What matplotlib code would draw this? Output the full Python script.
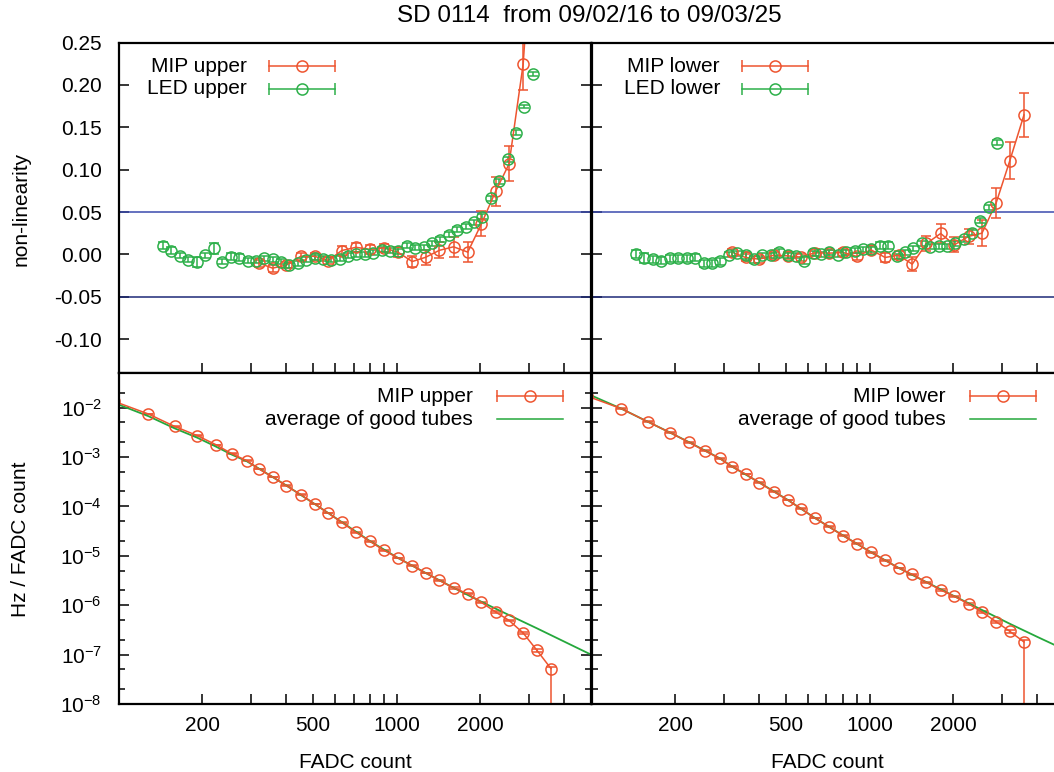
import matplotlib
matplotlib.use("Agg")
import matplotlib.pyplot as plt
from matplotlib.ticker import FormatStrFormatter, NullFormatter, LogFormatterMathtext

plt.rcParams['font.family'] = ['Liberation Sans', 'DejaVu Sans']
plt.rcParams['font.size'] = 15
plt.rcParams['axes.unicode_minus'] = False
plt.rcParams['mathtext.fontset'] = 'custom'
plt.rcParams['mathtext.rm'] = 'Liberation Sans'
plt.rcParams['mathtext.default'] = 'regular'

RED = '#EE5530'
GREEN = '#2DB04A'
FS = 15

# ---- data ----
# LED bins (non-linearity panels)
led_x = [145, 155, 166, 178, 191, 205, 220, 236, 253, 271, 291, 312, 334, 358, 384,
         411, 441, 473, 507, 543, 582, 624, 669, 717, 769, 824, 883, 947, 1015, 1088,
         1166, 1250, 1340, 1437, 1540, 1651, 1770, 1897, 2034, 2180, 2337, 2505, 2686, 2879, 3086]
led_upper = [0.0101, 0.0046, -0.0017, -0.0064, -0.0091, -0.0008, 0.0070, -0.0084, -0.0025, -0.0037,
             -0.0072, -0.0072, -0.0048, -0.0055, -0.0087, -0.0126, -0.0103, -0.0064, -0.0040, -0.0052,
             -0.0064, -0.0052, -0.0013, 0.0000, 0.0000, 0.0022, 0.0054, 0.0042, 0.0039, 0.0105,
             0.0078, 0.0086, 0.0129, 0.0172, 0.0231, 0.0290, 0.0329, 0.0381, 0.0443, 0.0664,
             0.0865, 0.1124, 0.1434, 0.1744, 0.2130]
led_upper_err = [0.004, 0.004, 0.003, 0.003, 0.006, 0.003, 0.007, 0.003, 0.004, 0.004,
                 0.003, 0.003, 0.003, 0.003, 0.003, 0.003, 0.003, 0.003, 0.003, 0.003,
                 0.003, 0.003, 0.003, 0.003, 0.003, 0.003, 0.003, 0.003, 0.003, 0.003,
                 0.003, 0.003, 0.003, 0.003, 0.003, 0.003, 0.003, 0.003, 0.003, 0.003,
                 0.003, 0.003, 0.003, 0.002, 0.002]
led_lower = [0.0003, -0.0044, -0.0056, -0.0072, -0.0048, -0.0048, -0.0048, -0.0040, -0.0103, -0.0103,
             -0.0079, -0.0005, 0.0015, -0.0009, -0.0056, -0.0009, -0.0009, 0.0027, -0.0009, -0.0017,
             -0.0072, 0.0011, 0.0003, 0.0023, -0.0005, 0.0027, 0.0046, 0.0062, 0.0062, 0.0101,
             0.0101, -0.0024, 0.0027, 0.0070, 0.0133, 0.0090, 0.0097, 0.0097, 0.0133, 0.0180,
             0.0255, 0.0396, 0.0558, 0.1320]
led_lower_err = [0.005, 0.006, 0.004, 0.004, 0.004, 0.004, 0.004, 0.004, 0.004, 0.004,
                 0.004, 0.003, 0.003, 0.004, 0.004, 0.003, 0.003, 0.004, 0.003, 0.003,
                 0.004, 0.003, 0.003, 0.003, 0.003, 0.003, 0.003, 0.003, 0.003, 0.004,
                 0.004, 0.003, 0.003, 0.003, 0.003, 0.003, 0.003, 0.003, 0.003, 0.003,
                 0.003, 0.003, 0.003, 0.003]

# MIP histogram bins
hist_x = [96, 128, 159, 192, 224, 255, 289, 320, 358, 401, 452, 507, 567, 635, 714,
          803, 900, 1012, 1138, 1271, 1424, 1602, 1802, 2018, 2270, 2537, 2851, 3196, 3592]

# MIP non-linearity (bins from 320 on)
mip_upper = [-0.0103, -0.0162, -0.0126, -0.0022, -0.0022, -0.0072, 0.0046, 0.0084, 0.0060, 0.0078,
             0.0025, -0.0084, -0.0034, 0.0048, 0.0090, 0.0027, 0.0361, 0.0745, 0.1068, 0.2244, 0.46]
mip_upper_err = [0.004, 0.004, 0.004, 0.004, 0.004, 0.004, 0.005, 0.005, 0.005, 0.005,
                 0.006, 0.0067, 0.0085, 0.0094, 0.0118, 0.0118, 0.0147, 0.0173, 0.0206, 0.030, 0.05]
mip_lower = [0.0027, -0.0036, -0.0056, -0.0009, -0.0017, -0.0032, 0.0019, 0.0015, 0.0023, -0.0024,
             0.0054, -0.0036, -0.0009, -0.0115, 0.0129, 0.0247, 0.0113, 0.0213, 0.0251, 0.0605,
             0.1108, 0.1646]
mip_lower_err = [0.004, 0.004, 0.004, 0.004, 0.004, 0.004, 0.004, 0.004, 0.004, 0.004,
                 0.005, 0.005, 0.005, 0.008, 0.009, 0.011, 0.009, 0.009, 0.015, 0.0175,
                 0.0216, 0.0256]

# MIP rate histograms (Hz / FADC count)
rate_upper = [1.35e-2, 7.41e-3, 4.16e-3, 2.70e-3, 1.77e-3, 1.17e-3, 8.41e-4, 5.71e-4, 3.94e-4, 2.62e-4,
              1.73e-4, 1.12e-4, 7.34e-5, 4.74e-5, 2.98e-5, 1.95e-5, 1.29e-5, 9.01e-6, 6.31e-6, 4.49e-6,
              3.18e-6, 2.23e-6, 1.71e-6, 1.14e-6, 7.27e-7, 4.92e-7, 2.74e-7, 1.22e-7, 5.19e-8]
rate_lower = [1.72e-2, 9.5e-3, 5.19e-3, 3.10e-3, 1.98e-3, 1.34e-3, 9.37e-4, 6.37e-4, 4.53e-4, 3.02e-4,
              1.99e-4, 1.35e-4, 8.98e-5, 5.82e-5, 3.88e-5, 2.55e-5, 1.76e-5, 1.17e-5, 8.07e-6, 5.66e-6,
              4.19e-6, 2.90e-6, 2.03e-6, 1.51e-6, 1.06e-6, 7.27e-7, 4.63e-7, 2.95e-7, 1.80e-7]
# relative errors (last bin goes to zero)
rate_rel_err = [0.01, 0.01, 0.01, 0.01, 0.01, 0.01, 0.01, 0.01, 0.01, 0.01,
                0.01, 0.01, 0.015, 0.015, 0.015, 0.015, 0.02, 0.02, 0.02, 0.02,
                0.025, 0.025, 0.03, 0.03, 0.035, 0.04, 0.05, 0.06, 0.08]

# average of good tubes
avg_x = [100, 128, 159, 192, 224, 255, 289, 320, 401, 507, 635, 803, 1012, 1271, 1602,
         2018, 2537, 3196, 4000, 5000]
avg_upper = [1.15e-2, 6.7e-3, 3.8e-3, 2.45e-3, 1.62e-3, 1.12e-3, 8.2e-4, 5.8e-4, 2.65e-4, 1.12e-4,
             4.8e-5, 1.97e-5, 9.0e-6, 4.5e-6, 2.25e-6, 1.17e-6, 6.3e-7, 3.4e-7, 1.84e-7, 1.0e-7]
avg_lower = [1.75e-2, 9.5e-3, 5.2e-3, 3.1e-3, 2.0e-3, 1.36e-3, 9.4e-4, 6.4e-4, 3.05e-4, 1.36e-4,
             5.85e-5, 2.57e-5, 1.18e-5, 5.7e-6, 2.92e-6, 1.52e-6, 8.0e-7, 4.2e-7, 2.3e-7, 1.28e-7]

x_major = [200, 500, 1000, 2000]
x_minor = [300, 400, 600, 700, 800, 900, 3000, 4000]
nl_ticks = [-0.10, -0.05, 0.0, 0.05, 0.10, 0.15, 0.20, 0.25]

fig = plt.figure(figsize=(10.54, 7.72), dpi=100)
ax_tl = fig.add_axes([0.1125, 0.5168, 0.4482, 0.428])
ax_tr = fig.add_axes([0.5612, 0.5168, 0.4482, 0.428])
ax_bl = fig.add_axes([0.1125, 0.0881, 0.4482, 0.4287])
ax_br = fig.add_axes([0.5612, 0.0881, 0.4482, 0.4287])


def style_axis(ax, bottom_row, first_col):
    ax.set_xscale('log')
    ax.set_xlim(100, 5000)
    ax.set_xticks(x_major)
    ax.set_xticks(x_minor, minor=True)
    ax.xaxis.set_minor_formatter(NullFormatter())
    if bottom_row:
        ax.set_xticklabels([str(v) for v in x_major])
    else:
        ax.set_xticklabels([])
    for s in ax.spines.values():
        s.set_linewidth(1.6)
    ax.tick_params(which='both', direction='in', top=False, right=True,
                   width=1.1, labelsize=FS, labelleft=first_col)
    ax.tick_params(axis='x', which='both', length=7, pad=9)
    ax.tick_params(axis='y', which='major', length=7, pad=12)
    ax.tick_params(axis='y', which='minor', length=4)


def legend_row(ax, y, label, color, errbar=True, xt=0.272, x0=0.318, x1=0.458):
    ax.text(xt, y, label, transform=ax.transAxes, ha='right', va='center', fontsize=FS)
    ax.plot([x0, x1], [y, y], transform=ax.transAxes, color=color, lw=1.1)
    if errbar:
        ax.plot([x0, x1], [y, y], transform=ax.transAxes, ls='none', marker='|',
                ms=8, mew=1.1, color=color)
        ax.plot([(x0 + x1) / 2], [y], transform=ax.transAxes, marker='o', ms=8,
                mfc='none', mew=1.1, color=color)


# ---- non-linearity panels ----
panels_top = [(ax_tl, mip_upper, mip_upper_err, led_upper, led_upper_err, 'MIP upper', 'LED upper'),
              (ax_tr, mip_lower, mip_lower_err, led_lower, led_lower_err, 'MIP lower', 'LED lower')]
for i, (ax, mip, mip_err, led, led_err, l1, l2) in enumerate(panels_top):
    ax.axhline(0.05, color='#3A4AAE', lw=1.1)
    ax.axhline(-0.05, color='#1E2A78', lw=1.1)
    ax.errorbar(hist_x[7:7 + len(mip)], mip, yerr=mip_err, fmt='-o', color=RED, lw=1.1,
                ms=8, mfc='none', mew=1.1, capsize=3.5, elinewidth=1.1)
    ax.errorbar(led_x[:len(led)], led, yerr=led_err, fmt='o', color=GREEN, ms=8,
                mfc='none', mew=1.1, capsize=3.5, elinewidth=1.1)
    ax.set_ylim(-0.14, 0.25)
    ax.set_yticks(nl_ticks)
    ax.yaxis.set_major_formatter(FormatStrFormatter('%.2f'))
    style_axis(ax, False, i == 0)
    legend_row(ax, 0.929, l1, RED)
    legend_row(ax, 0.860, l2, GREEN)

# ---- rate panels ----
panels_bot = [(ax_bl, rate_upper, avg_upper, 'MIP upper'),
              (ax_br, rate_lower, avg_lower, 'MIP lower')]
for i, (ax, rate, avg, lab) in enumerate(panels_bot):
    err_lo = [r * e for r, e in zip(rate, rate_rel_err)]
    err_hi = [r * e for r, e in zip(rate, rate_rel_err)]
    err_lo[-1] = rate[-1] * 0.999
    ax.errorbar(hist_x, rate, yerr=[err_lo, err_hi], fmt='-o', color=RED, lw=1.1,
                ms=8, mfc='none', mew=1.1, capsize=3.5, elinewidth=1.1)
    ax.plot(avg_x, avg, color='#25A83C', lw=1.3)
    ax.set_yscale('log')
    ax.set_ylim(1e-8, 0.05)
    ax.set_yticks([10.0 ** k for k in range(-8, -1)])
    ax.set_yticks([m * 10.0 ** k for k in range(-8, -1) for m in (2, 5)], minor=True)
    ax.yaxis.set_major_formatter(LogFormatterMathtext())
    ax.yaxis.set_minor_formatter(NullFormatter())
    style_axis(ax, True, i == 0)
    legend_row(ax, 0.930, lab, RED, xt=0.750, x0=0.801, x1=0.941)
    legend_row(ax, 0.861, 'average of good tubes', '#25A83C', errbar=False,
               xt=0.750, x0=0.801, x1=0.941)

# labels
fig.text(0.559, 0.979, 'SD 0114  from 09/02/16 to 09/03/25', ha='center', va='center', fontsize=17.5)
fig.text(21 / 1054, 1 - 209 / 772, 'non-linearity', rotation=90, ha='center', va='center', fontsize=FS)
fig.text(21 / 1054, 1 - 539 / 772, 'Hz / FADC count', rotation=90, ha='center', va='center', fontsize=FS)
fig.text(355 / 1054, 1 - 762 / 772, 'FADC count', ha='center', va='center', fontsize=FS)
fig.text(827 / 1054, 1 - 762 / 772, 'FADC count', ha='center', va='center', fontsize=FS)

fig.savefig('out.png', dpi=100)
